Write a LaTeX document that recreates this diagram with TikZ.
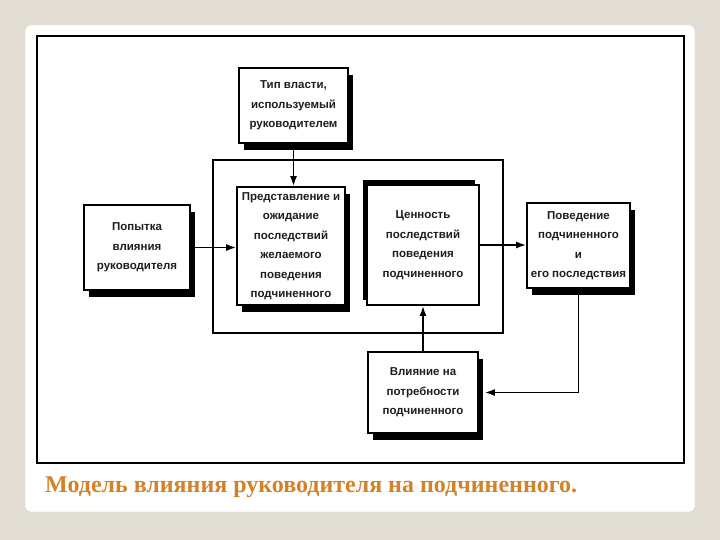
\documentclass[tikz,border=0pt]{standalone}
\usepackage{fontspec}
\setmainfont{Liberation Serif}
\newfontfamily\boxfont{Liberation Sans}
\usetikzlibrary{arrows.meta,shadows,calc}
\definecolor{bgbeige}{RGB}{227,222,211}
\definecolor{capcol}{RGB}{212,130,40}
\definecolor{txtgray}{RGB}{30,30,30}
\tikzset{
  blk/.style={draw, line width=1.6pt, fill=white, align=center, inner sep=0pt,
    font=\boxfont\bfseries\fontsize{11.5}{19.5}\selectfont, text=txtgray},
  shd/.style={drop shadow={shadow xshift=5pt, shadow yshift=-7pt, fill=black, opacity=1}},
  shdul/.style={drop shadow={shadow xshift=-4pt, shadow yshift=5pt, fill=black, opacity=1}},
  conn/.style={line width=1.8pt, -{Latex[length=10pt,width=7pt]}},
}
\begin{document}
\begin{tikzpicture}[x=1pt,y=-1pt]
\useasboundingbox (0,0) rectangle (720,540);
\fill[bgbeige] (0,0) rectangle (720,540);
\filldraw[fill=white, draw=gray!40, rounded corners=5pt] (25,25) rectangle (695,512);
\draw[line width=1.8pt] (37,36) rectangle (684,463);
\node[draw, line width=1.6pt, minimum width=290pt, minimum height=173pt] (cont) at (358,246.5) {};

\node[blk, shd, minimum width=109pt, minimum height=75pt] (top) at (293.5,105.5)
  {Тип власти,\\используемый\\руководителем};
\node[blk, shd, minimum width=106pt, minimum height=85pt] (left) at (137,247.5)
  {Попытка\\влияния\\руководителя};
\node[blk, shd, minimum width=108pt, minimum height=118pt] (pred) at (291,246)
  {Представление и\\ожидание\\последствий\\желаемого\\поведения\\подчиненного};
\node[blk, shdul, minimum width=112pt, minimum height=120pt] (cen) at (423,245)
  {Ценность\\последствий\\поведения\\подчиненного};
\node[blk, shd, minimum width=103pt, minimum height=85pt] (pov) at (578.5,245.5)
  {Поведение\\подчиненного\\и\\его последствия};
\node[blk, shd, minimum width=110pt, minimum height=81pt] (vli) at (423,392.5)
  {Влияние на\\потребности\\подчиненного};

\draw[conn] (top.south) -- (top.south |- pred.north);
\draw[conn] (left.east) -- (left.east -| pred.west);
\draw[conn] (cen.east) -- (cen.east -| pov.west);
\draw[conn, shorten >=6pt] (pov.south) |- (vli.east);
\draw[conn] (vli.north) -- (cen.south);

\node[anchor=base west, inner sep=0pt, text=capcol, font=\bfseries\fontsize{24}{27}\selectfont] (cap) at (45,492)
  {Модель влияния руководителя на подчиненного.};
\end{tikzpicture}
\end{document}
